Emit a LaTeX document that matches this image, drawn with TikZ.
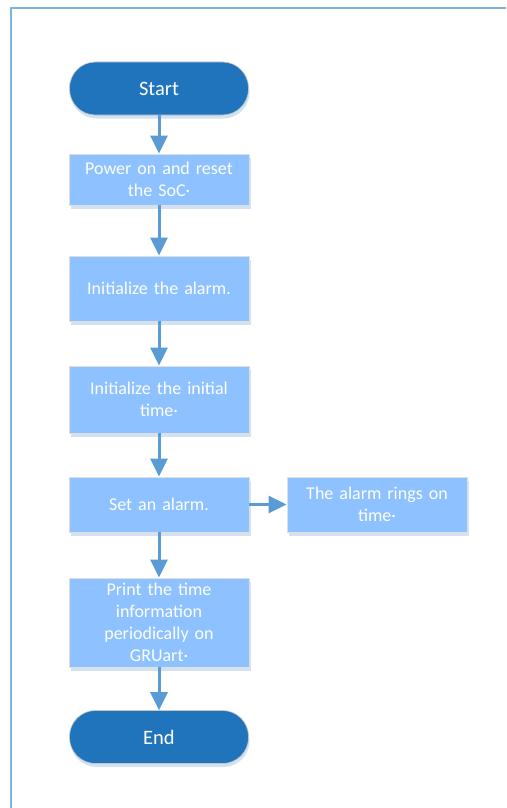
\documentclass[tikz,border=0pt]{standalone}
\usepackage{fontspec}
\setmainfont{Carlito}
\usepackage{xcolor}
\usepackage{tikz}
\usetikzlibrary{positioning, arrows.meta, shapes, shadows}
\definecolor{termblue}{HTML}{1F74BC}
\definecolor{boxblue}{HTML}{8DC1FF}
\definecolor{arrowblue}{HTML}{5B9BD5}
\definecolor{frameblue}{HTML}{7DB4DE}
\definecolor{shadowblue}{HTML}{D3E2F1}
\tikzstyle{line} = [draw=arrowblue, line width=3pt, -{Triangle[length=18pt, width=17pt]}]
\tikzstyle{block} = [rectangle, draw=gray!25, line width=0.8pt, fill=boxblue,
    text=white, text width=170pt, align=center, minimum width=180pt,
    font=\fontsize{18pt}{22pt}\selectfont,
    drop shadow={shadow xshift=1.5pt, shadow yshift=-3.5pt, fill=shadowblue, opacity=1}]
\tikzstyle{terminal} = [rectangle, rounded corners=26pt, draw=gray!45, line width=0.6pt,
    fill=termblue, text=white, minimum width=179pt, minimum height=53pt,
    font=\fontsize{20.5pt}{24pt}\selectfont,
    drop shadow={shadow xshift=1pt, shadow yshift=-3.5pt, fill=shadowblue, opacity=1}]

\begin{document}
\begin{tikzpicture}[x=1pt, y=-1pt]
      \useasboundingbox (0,0) rectangle (506,808);
      % Frame
      \draw[frameblue, line width=2.5pt] (506,8) -- (11,8) -- (11,808);

      % Place nodes
      \node [terminal] (start) at (159,88.5) {Start};
      \node [block, minimum height=51pt, below of=start, node distance=91pt] (power) {Power on and reset\\the SoC·};
      \path [line] (start) -- (power);

      \node [block, minimum height=65pt, below of=power, node distance=109pt] (initalarm) {Initialize the alarm.};
      \path [line] (power) -- (initalarm);

      \node [block, minimum height=67pt, below of=initalarm, node distance=111pt] (inittime) {Initialize the initial\\time·};
      \path [line] (initalarm) -- (inittime);

      \node [block, minimum height=55pt, below of=inittime, node distance=105pt] (setalarm) {Set an alarm.};
      \path [line] (inittime) -- (setalarm);

      \node [block, minimum height=55pt, right of=setalarm, node distance=218pt] (rings) {The alarm rings on\\time·};
      \path [line] (setalarm) -- (rings);

      \node [block, minimum height=89pt, below of=setalarm, node distance=118pt] (print) {Print the time\\information\\periodically on\\GRUart·};
      \path [line] (setalarm) -- (print);

      \node [terminal, below of=print, node distance=114.5pt] (end) {End};
      \path [line] (print) -- (end);
\end{tikzpicture}
\end{document}
